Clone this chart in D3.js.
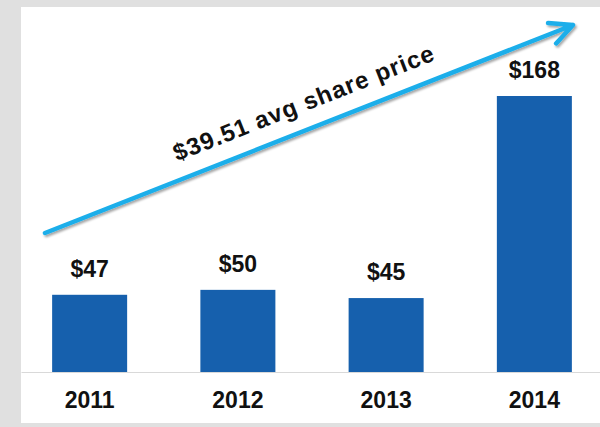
<!DOCTYPE html>
<html>
<head>
<meta charset="utf-8">
<script src="https://cdn.jsdelivr.net/npm/d3@7"></script>
<style>
  html, body { margin: 0; padding: 0; background: #e0e0e0; }
  svg { display: block; }
</style>
</head>
<body>
<svg id="chart" width="600" height="427"></svg>
<script>
const years = ["2011", "2012", "2013", "2014"];
const values = [47, 50, 45, 168];
const valueLabels = ["$47", "$50", "$45", "$168"];
const arrowText = "$39.51 avg share price";

const svg = d3.select("#chart");
const W = 600, H = 427;
const baseY = 372;

svg.append("rect").attr("x", 0).attr("y", 0).attr("width", W).attr("height", H).attr("fill", "#e0e0e0");
svg.append("rect").attr("x", 21).attr("y", 7).attr("width", W - 21).attr("height", 416).attr("fill", "#ffffff");

const x = d3.scaleBand().domain(years).range([21, 603]).paddingInner(0.494).paddingOuter(0.21);
const y = d3.scaleLinear().domain([0, d3.max(values)]).range([baseY, 96]);

const fontFam = "Arial, 'Liberation Sans', sans-serif";

svg.selectAll("rect.bar").data(years).enter().append("rect")
  .attr("class", "bar")
  .attr("x", d => x(d))
  .attr("width", x.bandwidth())
  .attr("y", (d, i) => y(values[i]))
  .attr("height", (d, i) => baseY - y(values[i]))
  .attr("fill", "#1660ad");

svg.selectAll("text.val").data(years).enter().append("text")
  .attr("class", "val")
  .attr("x", d => x(d) + x.bandwidth() / 2)
  .attr("y", (d, i) => y(values[i]) - 18)
  .attr("text-anchor", "middle")
  .attr("font-family", fontFam)
  .attr("font-weight", "bold")
  .attr("font-size", 23)
  .attr("fill", "#111")
  .text((d, i) => valueLabels[i]);

const axis = d3.axisBottom(x).tickSize(0).tickSizeOuter(0).tickPadding(20);
const ax = svg.append("g").attr("transform", `translate(0,${baseY})`).call(axis);
ax.select(".domain").attr("stroke", "#d9d9d9").attr("stroke-width", 1.2);
ax.selectAll("text")
  .attr("font-family", fontFam)
  .attr("font-weight", "bold")
  .attr("font-size", 23)
  .attr("fill", "#111");

// Arrow
const defs = svg.append("defs");
const f = defs.append("filter").attr("id", "sh").attr("x", "-10%").attr("y", "-50%").attr("width", "120%").attr("height", "200%");
f.append("feDropShadow").attr("dx", 1.5).attr("dy", 2).attr("stdDeviation", 1.2).attr("flood-color", "#000").attr("flood-opacity", 0.35);

const x0 = 45, y0 = 233, x1 = 573, y1 = 25;
const ang = Math.atan2(y1 - y0, x1 - x0);
const armLen = 25, armAng = 26 * Math.PI / 180;
const back = ang + Math.PI;
const a1 = [x1 + armLen * Math.cos(back - armAng), y1 + armLen * Math.sin(back - armAng)];
const a2 = [x1 + armLen * Math.cos(back + armAng), y1 + armLen * Math.sin(back + armAng)];
const ag = svg.append("g").attr("filter", "url(#sh)");
const pathStr = `M${x0},${y0}L${x1},${y1}M${a1[0]},${a1[1]}L${x1},${y1}L${a2[0]},${a2[1]}`;
ag.append("path").attr("d", pathStr)
  .attr("fill", "none").attr("stroke", "#1aaeea").attr("stroke-width", 4.5)
  .attr("stroke-linecap", "round").attr("stroke-linejoin", "round");

const deg = ang * 180 / Math.PI;
const mx = 313, my = y0 + (mx - x0) * (y1 - y0) / (x1 - x0);
const off = 18;
const nx = Math.sin(ang) * off, ny = -Math.cos(ang) * off;
svg.append("text")
  .attr("transform", `translate(${mx + nx},${my + ny}) rotate(${deg})`)
  .attr("text-anchor", "middle")
  .attr("font-family", fontFam)
  .attr("font-weight", "bold")
  .attr("font-size", 24)
  .attr("textLength", 278)
  .attr("lengthAdjust", "spacing")
  .attr("fill", "#111")
  .text(arrowText);
</script>
</body>
</html>
